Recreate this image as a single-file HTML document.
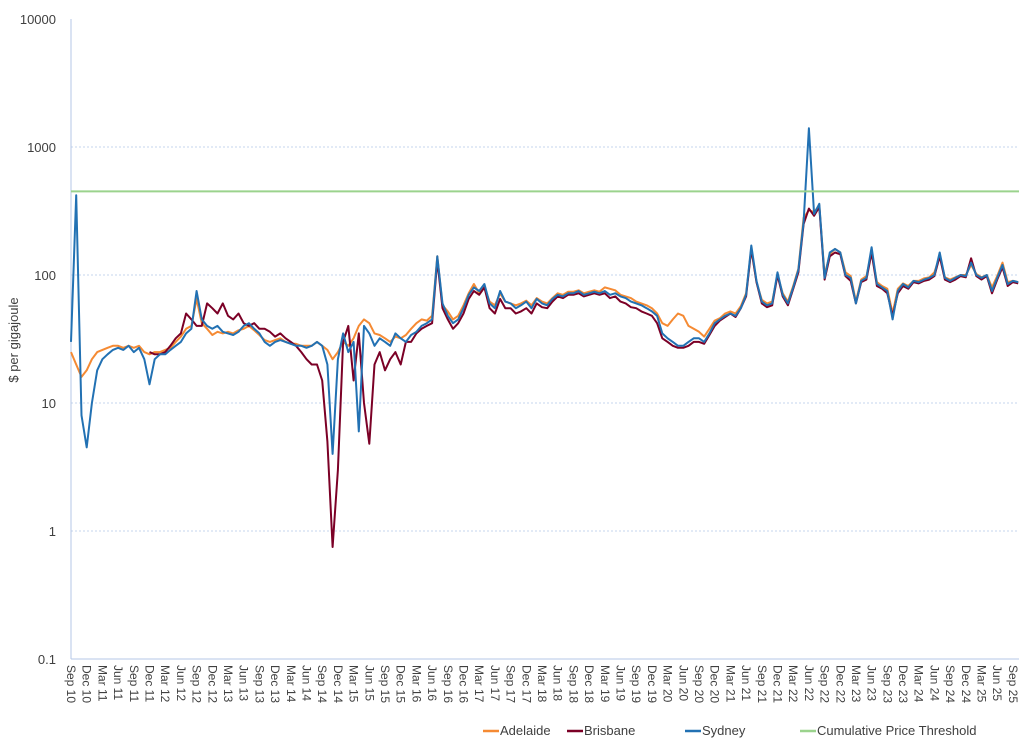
<!DOCTYPE html>
<html><head><meta charset="utf-8"><style>
body{margin:0;background:#fff;font-family:"Liberation Sans",sans-serif;}
svg text{font-family:"Liberation Sans",sans-serif;fill:#404040;}
</style></head><body>
<svg id="chart" width="1035" height="747" xmlns="http://www.w3.org/2000/svg">
<g id="grid"></g>
<g id="yticks"></g>
<g id="xticks"></g>
<g id="series"></g>
<text transform="translate(18,340) rotate(-90)" text-anchor="middle" font-size="13">$ per gigajoule</text>
<g font-size="13">
 <g><line x1="483" y1="731" x2="499" y2="731" stroke="#F58A33" stroke-width="2.5"/><text x="500" y="735">Adelaide</text></g>
 <g><line x1="567" y1="731" x2="583" y2="731" stroke="#7B0026" stroke-width="2.5"/><text x="584" y="735">Brisbane</text></g>
 <g><line x1="685" y1="731" x2="701" y2="731" stroke="#2271B3" stroke-width="2.5"/><text x="702" y="735">Sydney</text></g>
 <g><line x1="800" y1="731" x2="816" y2="731" stroke="#9BD38D" stroke-width="2.5"/><text x="817" y="735">Cumulative Price Threshold</text></g>
</g>
</svg>
<script>
const tickLabels=["Sep 10","Dec 10","Mar 11","Jun 11","Sep 11","Dec 11","Mar 12","Jun 12","Sep 12","Dec 12","Mar 13","Jun 13","Sep 13","Dec 13","Mar 14","Jun 14","Sep 14","Dec 14","Mar 15","Jun 15","Sep 15","Dec 15","Mar 16","Jun 16","Sep 16","Dec 16","Mar 17","Jun 17","Sep 17","Dec 17","Mar 18","Jun 18","Sep 18","Dec 18","Mar 19","Jun 19","Sep 19","Dec 19","Mar 20","Jun 20","Sep 20","Dec 20","Mar 21","Jun 21","Sep 21","Dec 21","Mar 22","Jun 22","Sep 22","Dec 22","Mar 23","Jun 23","Sep 23","Dec 23","Mar 24","Jun 24","Sep 24","Dec 24","Mar 25","Jun 25","Sep 25"];
const yTicks=[0.1,1,10,100,1000,10000];
const threshold=450;
const sydney=[30,420,8,4.5,10,18,22,24,26,27,26,28,
25,27,22,14,22,24,24,26,28,30,35,38,
75,45,40,38,40,36,35,34,36,40,42,38,
35,30,28,30,31,30,29,28,28,27,28,30,
28,20,4,22,35,25,30,6,40,35,28,32,
30,28,35,32,30,34,36,40,42,45,140,60,
48,42,45,55,70,80,75,85,60,55,75,62,
60,55,58,62,55,65,60,58,65,70,68,72,
72,75,70,72,74,72,75,70,72,68,66,62,
60,58,55,52,48,35,32,30,28,28,30,32,
32,30,35,42,45,48,50,48,55,70,170,90,
62,58,60,105,70,60,80,110,260,1400,300,360,
95,150,160,150,100,95,60,90,95,165,85,80,
75,45,75,85,80,90,88,92,95,100,150,95,
90,95,100,98,125,100,95,100,75,95,120,85,90,88];
const adelaide=[25,20,16,18,22,25,26,27,28,28,27,28,
27,28,25,24,25,25,26,27,30,33,38,40,
65,42,38,34,36,35,36,35,37,38,40,37,
34,31,30,31,32,30,29,29,28,28,28,30,
28,26,22,25,30,28,32,40,45,42,35,34,
32,30,33,32,34,38,42,45,44,48,140,58,
52,45,48,58,72,85,72,80,62,58,72,62,
60,58,60,63,58,66,62,60,66,72,70,74,
74,76,72,74,76,74,80,78,76,70,68,66,
62,60,58,55,50,42,40,45,50,48,40,38,
36,33,38,44,46,50,52,50,57,72,160,88,
64,60,62,100,72,62,82,112,280,320,310,350,
100,145,160,150,105,98,62,92,98,150,88,82,
78,50,78,86,82,90,90,94,96,105,140,96,
92,96,100,100,120,102,96,100,80,98,125,88,90,88];
const brisbane=[null,null,null,null,null,null,null,null,null,null,null,null,
null,null,null,25,24,24,25,28,32,35,50,45,
40,40,60,55,50,60,48,45,50,42,40,42,
38,38,36,33,35,32,30,28,25,22,20,20,
15,5,0.75,3,30,40,15,35,10,4.8,20,25,
18,22,25,20,30,30,35,38,40,42,130,55,
45,38,42,50,65,75,70,80,55,50,65,55,
55,50,52,55,50,60,56,55,62,68,66,70,
70,72,68,70,72,70,72,66,68,62,60,56,
55,52,50,48,42,32,30,28,27,27,28,30,
30,29,34,40,44,47,50,47,55,68,160,88,
60,56,58,100,68,58,78,105,250,330,290,340,
92,140,150,145,98,90,60,88,92,150,82,78,
72,48,72,82,78,88,86,90,92,98,140,92,
88,92,98,96,135,98,92,98,72,92,115,82,88,86];

const X0=71,X1=1019,DX=5.233;
const yPix=v=>275-128*Math.log10(v/100);
const xPix=m=>X0+DX*m;
const NS="http://www.w3.org/2000/svg";
function mk(tag,parent,attrs){const e=document.createElementNS(NS,tag);for(const k in attrs)e.setAttribute(k,attrs[k]);parent.appendChild(e);return e;}
const grid=document.getElementById('grid'),yt=document.getElementById('yticks'),xt=document.getElementById('xticks'),ser=document.getElementById('series');
yTicks.forEach(v=>{
  const y=yPix(v);
  if(v!==0.1&&v!==10000){
    const l=mk('line',grid,{x1:X0,x2:X1,y1:y,y2:y,stroke:'#B4C7E7','stroke-width':0.8,'stroke-dasharray':'2,2'});
    
    
  }
  const t=mk('text',yt,{x:56,y:y+5,'text-anchor':'end','font-size':13});
  t.textContent=String(v);
  
  
});
const ax=mk('line',grid,{x1:X0,x2:X1,y1:yPix(0.1),y2:yPix(0.1),stroke:'#B4C7E7','stroke-width':1});


const ay=mk('line',grid,{x1:X0,x2:X0,y1:yPix(10000),y2:yPix(0.1),stroke:'#B4C7E7','stroke-width':1});


tickLabels.forEach((s,i)=>{
  const x=xPix(i*3)-4;
  const t=mk('text',xt,{transform:`translate(${x},665) rotate(90)`,'font-size':12});
  t.textContent=s;
  
  
});
function drawSeries(arr,color,name){
  let segs=[],cur=[];
  arr.forEach((v,i)=>{if(v==null){if(cur.length)segs.push(cur);cur=[];}else cur.push(xPix(i).toFixed(1)+','+yPix(v).toFixed(1));});
  if(cur.length)segs.push(cur);
  segs.forEach(sg=>{
    const p=mk('polyline',ser,{points:sg.join(' '),fill:'none',stroke:color,'stroke-width':2,'stroke-linejoin':'round'});
    
    
  });
}
drawSeries(adelaide,'#F58A33','adelaide-line');
drawSeries(brisbane,'#7B0026','brisbane-line');
drawSeries(sydney,'#2271B3','sydney-line');
const th=mk('line',ser,{x1:X0,x2:X1,y1:yPix(threshold),y2:yPix(threshold),stroke:'#9BD38D','stroke-width':2});


</script>
</body></html>
